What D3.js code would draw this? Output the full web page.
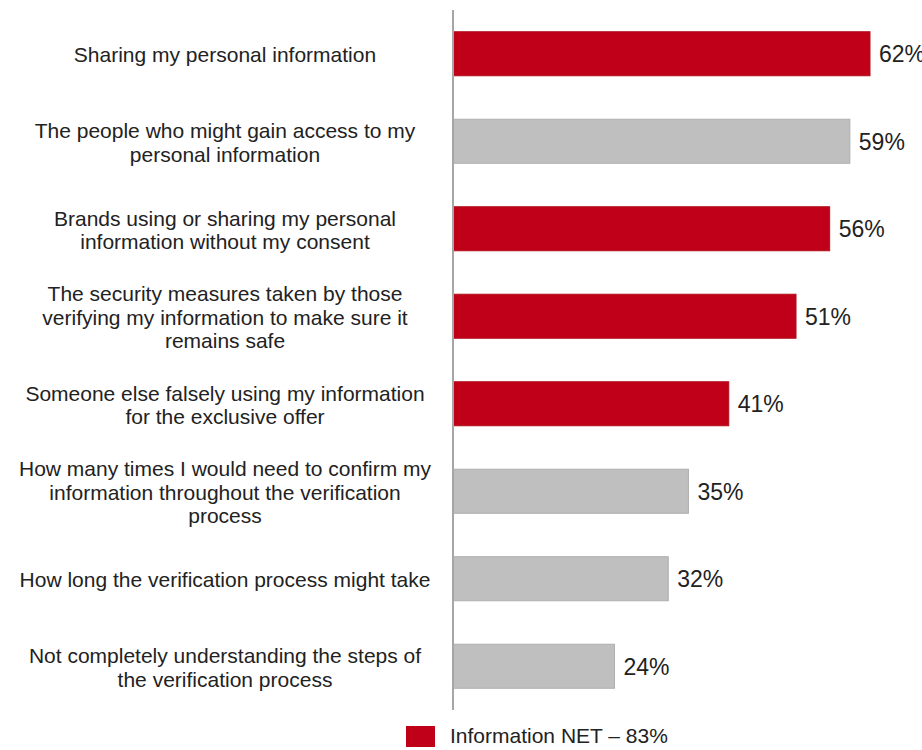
<!DOCTYPE html>
<html>
<head>
<meta charset="utf-8">
<script src="https://cdn.jsdelivr.net/npm/d3@7"></script>
<style>
  body { margin: 0; background: #fff; }
  text { font-family: "Liberation Sans", Arial, sans-serif; fill: #222; }
</style>
</head>
<body>
<div id="chart"></div>
<script>
// ---- data ----
const categories = [
  ["Sharing my personal information"],
  ["The people who might gain access to my", "personal information"],
  ["Brands using or sharing my personal", "information without my consent"],
  ["The security measures taken by those", "verifying my information to make sure it", "remains safe"],
  ["Someone else falsely using my information", "for the exclusive offer"],
  ["How many times I would need to confirm my", "information throughout the verification", "process"],
  ["How long the verification process might take"],
  ["Not completely understanding the steps of", "the verification process"]
];
const values = [62, 59, 56, 51, 41, 35, 32, 24];
const inNet = [true, false, true, true, true, false, false, false];
const legendLabel = "Information NET \u2013 83%";

const width = 922, height = 750;
const axisX = 453;

const svg = d3.select("#chart").append("svg")
  .attr("width", width).attr("height", height);

/*---- scales ----*/
const ids = d3.range(values.length);
const y = d3.scaleBand()
  .domain(ids)
  .range([10, 710])
  .paddingInner(0.497)
  .paddingOuter(0.2485);

const x = d3.scaleLinear()
  .domain([0, 62])
  .range([axisX, 870]);

/*---- bars ----*/
svg.append("g").selectAll("rect")
  .data(ids)
  .enter().append("rect")
  .attr("x", x(0))
  .attr("y", i => y(i))
  .attr("width", i => x(values[i]) - x(0))
  .attr("height", y.bandwidth())
  .attr("fill", i => inNet[i] ? "#c00018" : "#bfbfbf")
  .attr("stroke", i => inNet[i] ? "#b0101c" : "#adadad")
  .attr("stroke-width", 1);

// axis line
svg.append("line")
  .attr("x1", axisX).attr("x2", axisX)
  .attr("y1", 10).attr("y2", 710)
  .attr("stroke", "#a6a6a6").attr("stroke-width", 2);

// value labels
svg.append("g").selectAll("text")
  .data(ids)
  .enter().append("text")
  .attr("x", i => x(values[i]) + 9)
  .attr("y", i => y(i) + y.bandwidth() / 2 + 8.5)
  .style("font-size", "23px")
  .text(i => values[i] + "%");

// category labels (tspans carry the baseline so no dy on the parent)
const lineH = 23.5, catSize = 21;
const cats = svg.append("g").selectAll("text")
  .data(ids)
  .enter().append("text")
  .attr("text-anchor", "middle")
  .style("font-size", catSize + "px")
  .attr("y", i => y(i) + y.bandwidth() / 2 + 8.5 - (categories[i].length - 1) * lineH / 2);

cats.selectAll("tspan")
  .data(i => categories[i])
  .enter().append("tspan")
  .attr("x", 225)
  .attr("dy", (d, j) => j === 0 ? 0 : lineH)
  .text(d => d);

/*---- legend ----*/
svg.append("rect")
  .attr("x", 406).attr("y", 726)
  .attr("width", 29).attr("height", 21)
  .attr("fill", "#c00018");

svg.append("text")
  .attr("x", 450).attr("y", 743)
  .style("font-size", "21px")
  .text(legendLabel);
</script>
</body>
</html>
